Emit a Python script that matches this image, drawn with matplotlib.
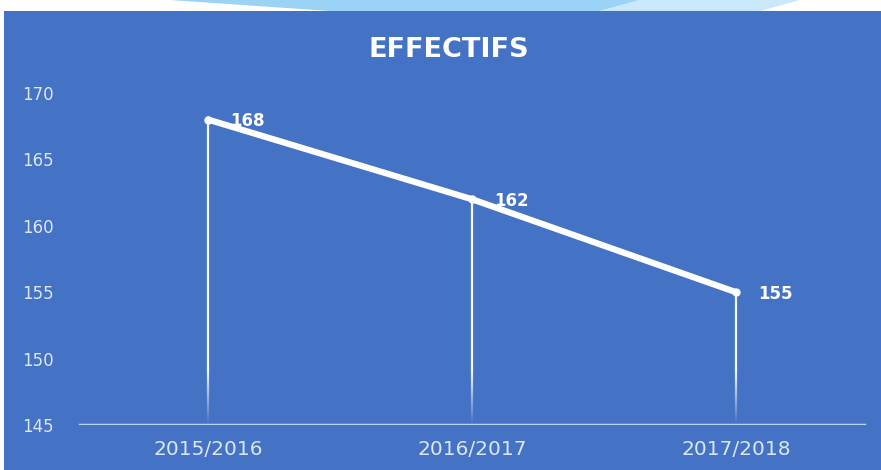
import numpy as np
import matplotlib
matplotlib.use("Agg")
import matplotlib.pyplot as plt
from matplotlib.patches import Rectangle, Polygon
from matplotlib.collections import LineCollection

categories = ["2015/2016", "2016/2017", "2017/2018"]
values = [168, 162, 155]
yticks = [145, 150, 155, 160, 165, 170]
title = "EFFECTIFS"

BLUE = "#4472C4"
W, H = 881, 470
fig = plt.figure(figsize=(W / 100, H / 100), dpi=100)
fig.patch.set_facecolor("white")

# background panel
fig.patches.append(Rectangle((4 / W, 0), 1 - 4 / W, 1 - 11 / H, transform=fig.transFigure,
                             facecolor=BLUE, edgecolor="none", zorder=-10))
# decorative top strip
fig.patches.append(Polygon([(170 / W, 1), (640 / W, 1), (600 / W, 1 - 11 / H), (330 / W, 1 - 11 / H)],
                           closed=True, transform=fig.transFigure, facecolor="#9ad3f5",
                           edgecolor="none", zorder=-10))
fig.patches.append(Polygon([(640 / W, 1), (800 / W, 1), (760 / W, 1 - 11 / H), (600 / W, 1 - 11 / H)],
                           closed=True, transform=fig.transFigure, facecolor="#c9e8fa",
                           edgecolor="none", zorder=-10))

ax = fig.add_axes([76 / W, 1 - 425 / H, 792 / W, (425 - 93) / H])
ax.set_zorder(5)
ax.set_facecolor("none")
x = np.arange(len(categories))
ax.set_xlim(-0.5, len(categories) - 0.5)
ax.set_ylim(yticks[0], yticks[-1])

# drop lines with fade near the bottom
ymin = yticks[0]
for xi, v in zip(x, values):
    ys = np.linspace(ymin, v, 100)
    segs = [[(xi, ys[i]), (xi, ys[i + 1])] for i in range(len(ys) - 1)]
    fade = np.clip((ys[:-1] - ymin) / 4.0, 0.05, 1.0)
    cols = [(1, 1, 1, 0.95 * f) for f in fade]
    ax.add_collection(LineCollection(segs, colors=cols, linewidths=1.6, zorder=2))

ax.plot(x, values, color="white", lw=4.5, solid_capstyle="round", zorder=3,
        marker="o", markersize=5, markerfacecolor="white", markeredgecolor="white")

for xi, v in zip(x, values):
    ax.annotate(str(v), (xi, v), xytext=(16, -1), textcoords="offset points",
                color="white", fontsize=12, fontweight="bold", ha="left", va="center", zorder=4)

ax.axhline(ymin, xmin=0.005, xmax=0.995, color="#bcd4f2", lw=2.5, zorder=3)

for s in ax.spines.values():
    s.set_visible(False)
ax.set_xticks(x)
ax.set_xticklabels(categories)
ax.set_yticks(yticks)
ax.tick_params(axis="both", length=0, colors="#dce6f6")
ax.tick_params(axis="x", labelsize=14.5, pad=11)
ax.tick_params(axis="y", labelsize=12, pad=16)

fig.text(449 / W, 1 - 50 / H, title, color="white", fontsize=19.5, fontweight="bold",
         ha="center", va="center")

fig.savefig("out.png", dpi=100, facecolor=fig.get_facecolor())
